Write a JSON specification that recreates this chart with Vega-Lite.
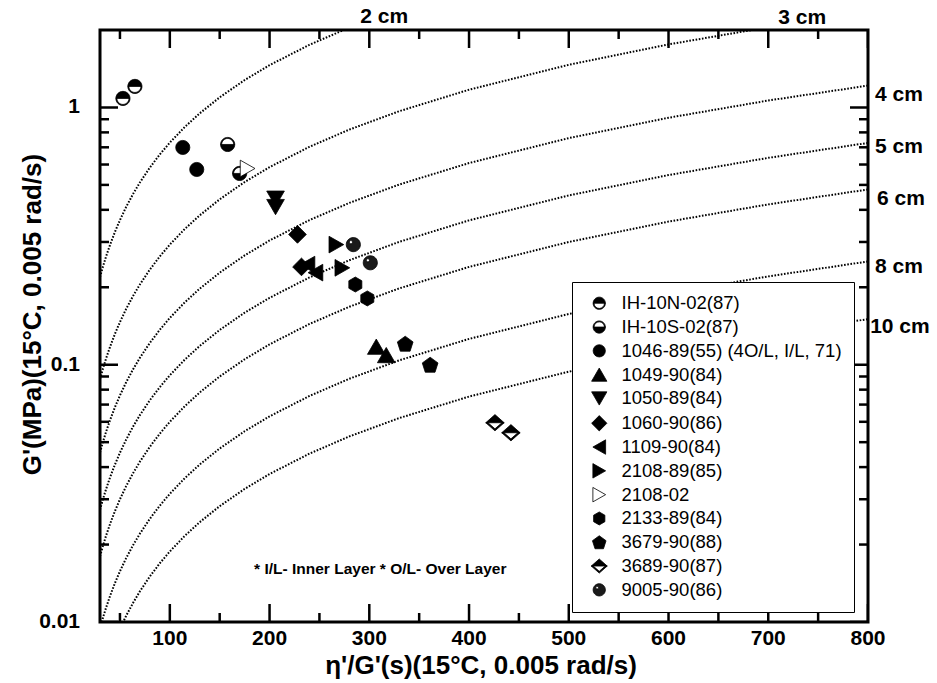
{
  "$schema": "https://vega.github.io/schema/vega-lite/v6.json",
  "width": 768,
  "height": 592,
  "autosize": {"type": "none"},
  "padding": {"left": 100, "top": 30, "right": 69, "bottom": 61},
  "config": {
    "view": {"stroke": "black", "strokeWidth": 3},
    "font": "Liberation Sans"
  },
  "datasets": {
    "curves": [
      {"c": "2", "x": 30, "y": 0.219}, {"c": "2", "x": 33, "y": 0.2409}, {"c": "2", "x": 36, "y": 0.2628}, {"c": "2", "x": 40, "y": 0.292}, {"c": "2", "x": 45, "y": 0.3285}, {"c": "2", "x": 50, "y": 0.365}, {"c": "2", "x": 56, "y": 0.4088}, {"c": "2", "x": 63, "y": 0.4599}, {"c": "2", "x": 70, "y": 0.511}, {"c": "2", "x": 80, "y": 0.584}, {"c": "2", "x": 90, "y": 0.657}, {"c": "2", "x": 100, "y": 0.73}, {"c": "2", "x": 115, "y": 0.8395}, {"c": "2", "x": 130, "y": 0.949}, {"c": "2", "x": 150, "y": 1.095}, {"c": "2", "x": 175, "y": 1.2775}, {"c": "2", "x": 200, "y": 1.46}, {"c": "2", "x": 240, "y": 1.752}, {"c": "2", "x": 280, "y": 2.044},
      {"c": "3", "x": 30, "y": 0.0879}, {"c": "3", "x": 33, "y": 0.0967}, {"c": "3", "x": 36, "y": 0.1055}, {"c": "3", "x": 40, "y": 0.1172}, {"c": "3", "x": 45, "y": 0.1319}, {"c": "3", "x": 50, "y": 0.1465}, {"c": "3", "x": 56, "y": 0.1641}, {"c": "3", "x": 63, "y": 0.1846}, {"c": "3", "x": 70, "y": 0.2051}, {"c": "3", "x": 80, "y": 0.2344}, {"c": "3", "x": 90, "y": 0.2637}, {"c": "3", "x": 100, "y": 0.293}, {"c": "3", "x": 115, "y": 0.337}, {"c": "3", "x": 130, "y": 0.3809}, {"c": "3", "x": 150, "y": 0.4395}, {"c": "3", "x": 175, "y": 0.5128}, {"c": "3", "x": 200, "y": 0.586}, {"c": "3", "x": 240, "y": 0.7032}, {"c": "3", "x": 280, "y": 0.8204}, {"c": "3", "x": 330, "y": 0.9669}, {"c": "3", "x": 400, "y": 1.172}, {"c": "3", "x": 500, "y": 1.465}, {"c": "3", "x": 600, "y": 1.758}, {"c": "3", "x": 700, "y": 2.051},
      {"c": "4", "x": 30, "y": 0.0456}, {"c": "4", "x": 33, "y": 0.05016}, {"c": "4", "x": 36, "y": 0.05472}, {"c": "4", "x": 40, "y": 0.0608}, {"c": "4", "x": 45, "y": 0.0684}, {"c": "4", "x": 50, "y": 0.076}, {"c": "4", "x": 56, "y": 0.08512}, {"c": "4", "x": 63, "y": 0.09576}, {"c": "4", "x": 70, "y": 0.1064}, {"c": "4", "x": 80, "y": 0.1216}, {"c": "4", "x": 90, "y": 0.1368}, {"c": "4", "x": 100, "y": 0.152}, {"c": "4", "x": 115, "y": 0.1748}, {"c": "4", "x": 130, "y": 0.1976}, {"c": "4", "x": 150, "y": 0.228}, {"c": "4", "x": 175, "y": 0.266}, {"c": "4", "x": 200, "y": 0.304}, {"c": "4", "x": 240, "y": 0.3648}, {"c": "4", "x": 280, "y": 0.4256}, {"c": "4", "x": 330, "y": 0.5016}, {"c": "4", "x": 400, "y": 0.608}, {"c": "4", "x": 500, "y": 0.76}, {"c": "4", "x": 600, "y": 0.912}, {"c": "4", "x": 700, "y": 1.064}, {"c": "4", "x": 800, "y": 1.216},
      {"c": "5", "x": 30, "y": 0.0273}, {"c": "5", "x": 33, "y": 0.03003}, {"c": "5", "x": 36, "y": 0.03276}, {"c": "5", "x": 40, "y": 0.0364}, {"c": "5", "x": 45, "y": 0.04095}, {"c": "5", "x": 50, "y": 0.0455}, {"c": "5", "x": 56, "y": 0.05096}, {"c": "5", "x": 63, "y": 0.05733}, {"c": "5", "x": 70, "y": 0.0637}, {"c": "5", "x": 80, "y": 0.0728}, {"c": "5", "x": 90, "y": 0.0819}, {"c": "5", "x": 100, "y": 0.091}, {"c": "5", "x": 115, "y": 0.1047}, {"c": "5", "x": 130, "y": 0.1183}, {"c": "5", "x": 150, "y": 0.1365}, {"c": "5", "x": 175, "y": 0.1593}, {"c": "5", "x": 200, "y": 0.182}, {"c": "5", "x": 240, "y": 0.2184}, {"c": "5", "x": 280, "y": 0.2548}, {"c": "5", "x": 330, "y": 0.3003}, {"c": "5", "x": 400, "y": 0.364}, {"c": "5", "x": 500, "y": 0.455}, {"c": "5", "x": 600, "y": 0.546}, {"c": "5", "x": 700, "y": 0.637}, {"c": "5", "x": 800, "y": 0.728},
      {"c": "6", "x": 30, "y": 0.018}, {"c": "6", "x": 33, "y": 0.0198}, {"c": "6", "x": 36, "y": 0.0216}, {"c": "6", "x": 40, "y": 0.024}, {"c": "6", "x": 45, "y": 0.027}, {"c": "6", "x": 50, "y": 0.03}, {"c": "6", "x": 56, "y": 0.0336}, {"c": "6", "x": 63, "y": 0.0378}, {"c": "6", "x": 70, "y": 0.042}, {"c": "6", "x": 80, "y": 0.048}, {"c": "6", "x": 90, "y": 0.054}, {"c": "6", "x": 100, "y": 0.06}, {"c": "6", "x": 115, "y": 0.069}, {"c": "6", "x": 130, "y": 0.078}, {"c": "6", "x": 150, "y": 0.09}, {"c": "6", "x": 175, "y": 0.105}, {"c": "6", "x": 200, "y": 0.12}, {"c": "6", "x": 240, "y": 0.144}, {"c": "6", "x": 280, "y": 0.168}, {"c": "6", "x": 330, "y": 0.198}, {"c": "6", "x": 400, "y": 0.24}, {"c": "6", "x": 500, "y": 0.3}, {"c": "6", "x": 600, "y": 0.36}, {"c": "6", "x": 700, "y": 0.42}, {"c": "6", "x": 800, "y": 0.48},
      {"c": "8", "x": 30, "y": 0.00945}, {"c": "8", "x": 33, "y": 0.0104}, {"c": "8", "x": 36, "y": 0.01134}, {"c": "8", "x": 40, "y": 0.0126}, {"c": "8", "x": 45, "y": 0.01418}, {"c": "8", "x": 50, "y": 0.01575}, {"c": "8", "x": 56, "y": 0.01764}, {"c": "8", "x": 63, "y": 0.01985}, {"c": "8", "x": 70, "y": 0.02205}, {"c": "8", "x": 80, "y": 0.0252}, {"c": "8", "x": 90, "y": 0.02835}, {"c": "8", "x": 100, "y": 0.0315}, {"c": "8", "x": 115, "y": 0.03623}, {"c": "8", "x": 130, "y": 0.04095}, {"c": "8", "x": 150, "y": 0.04725}, {"c": "8", "x": 175, "y": 0.05513}, {"c": "8", "x": 200, "y": 0.063}, {"c": "8", "x": 240, "y": 0.0756}, {"c": "8", "x": 280, "y": 0.0882}, {"c": "8", "x": 330, "y": 0.104}, {"c": "8", "x": 400, "y": 0.126}, {"c": "8", "x": 500, "y": 0.1575}, {"c": "8", "x": 600, "y": 0.189}, {"c": "8", "x": 700, "y": 0.2205}, {"c": "8", "x": 800, "y": 0.252},
      {"c": "10", "x": 50, "y": 0.0094}, {"c": "10", "x": 56, "y": 0.01053}, {"c": "10", "x": 63, "y": 0.01184}, {"c": "10", "x": 70, "y": 0.01316}, {"c": "10", "x": 80, "y": 0.01504}, {"c": "10", "x": 90, "y": 0.01692}, {"c": "10", "x": 100, "y": 0.0188}, {"c": "10", "x": 115, "y": 0.02162}, {"c": "10", "x": 130, "y": 0.02444}, {"c": "10", "x": 150, "y": 0.0282}, {"c": "10", "x": 175, "y": 0.0329}, {"c": "10", "x": 200, "y": 0.0376}, {"c": "10", "x": 240, "y": 0.04512}, {"c": "10", "x": 280, "y": 0.05264}, {"c": "10", "x": 330, "y": 0.06204}, {"c": "10", "x": 400, "y": 0.0752}, {"c": "10", "x": 500, "y": 0.094}, {"c": "10", "x": 600, "y": 0.1128}, {"c": "10", "x": 700, "y": 0.1316}, {"c": "10", "x": 800, "y": 0.1504}
    ],
    "pts": [
      {"series": "IH-10N-02(87)", "x": 53, "y": 1.084},
      {"series": "IH-10N-02(87)", "x": 65, "y": 1.207},
      {"series": "IH-10S-02(87)", "x": 158, "y": 0.718},
      {"series": "IH-10S-02(87)", "x": 170, "y": 0.554},
      {"series": "1046-89(55) (4O/L, I/L, 71)", "x": 113, "y": 0.699},
      {"series": "1046-89(55) (4O/L, I/L, 71)", "x": 127, "y": 0.574},
      {"series": "1049-90(84)", "x": 307, "y": 0.1175},
      {"series": "1049-90(84)", "x": 317, "y": 0.109},
      {"series": "1050-89(84)", "x": 206, "y": 0.442},
      {"series": "1050-89(84)", "x": 206, "y": 0.41},
      {"series": "1060-90(86)", "x": 228, "y": 0.321},
      {"series": "1060-90(86)", "x": 232, "y": 0.24},
      {"series": "1109-90(84)", "x": 238, "y": 0.245},
      {"series": "1109-90(84)", "x": 246, "y": 0.228},
      {"series": "2108-89(85)", "x": 267, "y": 0.293},
      {"series": "2108-89(85)", "x": 273, "y": 0.238},
      {"series": "2133-89(84)", "x": 286, "y": 0.205},
      {"series": "2133-89(84)", "x": 298, "y": 0.181},
      {"series": "3679-90(88)", "x": 336, "y": 0.1207},
      {"series": "3679-90(88)", "x": 361, "y": 0.1},
      {"series": "3689-90(87)", "x": 426, "y": 0.0595},
      {"series": "3689-90(87)", "x": 442, "y": 0.0544},
      {"series": "9005-90(86)", "x": 284, "y": 0.293},
      {"series": "9005-90(86)", "x": 301, "y": 0.249},
      {"series": "2108-02", "x": 178, "y": 0.579}
    ],
    "cmlabels": [
      {"label": "2 cm", "x": 315, "y": 2.25},
      {"label": "3 cm", "x": 734, "y": 2.23},
      {"label": "4 cm", "x": 831, "y": 1.12},
      {"label": "5 cm", "x": 831, "y": 0.705},
      {"label": "6 cm", "x": 833, "y": 0.442},
      {"label": "8 cm", "x": 831, "y": 0.24},
      {"label": "10 cm", "x": 832, "y": 0.1406}
    ],
    "note": [
      {"label": "* I/L- Inner Layer * O/L- Over Layer", "x": 311, "y": 0.0161}
    ],
    "xlabels": [
      {"label": "100", "x": 100, "y": 0.00859}, {"label": "200", "x": 200, "y": 0.00859}, {"label": "300", "x": 300, "y": 0.00859}, {"label": "400", "x": 400, "y": 0.00859},
      {"label": "500", "x": 500, "y": 0.00859}, {"label": "600", "x": 600, "y": 0.00859}, {"label": "700", "x": 700, "y": 0.00859}, {"label": "800", "x": 800, "y": 0.00859}
    ],
    "ylabels": [
      {"label": "0.01", "x": 10, "y": 0.01}, {"label": "0.1", "x": 10, "y": 0.1}, {"label": "1", "x": 10, "y": 1}
    ],
    "xtitle": [
      {"label": "η'/G'(s)(15°C, 0.005 rad/s)", "x": 412, "y": 0.00628}
    ],
    "ytitle": [
      {"label": "G'(MPa)(15°C, 0.005 rad/s)", "x": -29, "y": 0.1566}
    ],
    "xticks": [
      {"x": 100, "y": 0.01, "k": "major"}, {"x": 200, "y": 0.01, "k": "major"}, {"x": 300, "y": 0.01, "k": "major"}, {"x": 400, "y": 0.01, "k": "major"}, {"x": 500, "y": 0.01, "k": "major"}, {"x": 600, "y": 0.01, "k": "major"}, {"x": 700, "y": 0.01, "k": "major"}, {"x": 800, "y": 0.01, "k": "major"},
      {"x": 100, "y": 2, "k": "major"}, {"x": 200, "y": 2, "k": "major"}, {"x": 300, "y": 2, "k": "major"}, {"x": 400, "y": 2, "k": "major"}, {"x": 500, "y": 2, "k": "major"}, {"x": 600, "y": 2, "k": "major"}, {"x": 700, "y": 2, "k": "major"}, {"x": 800, "y": 2, "k": "major"},
      {"x": 50, "y": 0.01, "k": "minor"}, {"x": 150, "y": 0.01, "k": "minor"}, {"x": 250, "y": 0.01, "k": "minor"}, {"x": 350, "y": 0.01, "k": "minor"}, {"x": 450, "y": 0.01, "k": "minor"}, {"x": 550, "y": 0.01, "k": "minor"}, {"x": 650, "y": 0.01, "k": "minor"}, {"x": 750, "y": 0.01, "k": "minor"},
      {"x": 50, "y": 2, "k": "minor"}, {"x": 150, "y": 2, "k": "minor"}, {"x": 250, "y": 2, "k": "minor"}, {"x": 350, "y": 2, "k": "minor"}, {"x": 450, "y": 2, "k": "minor"}, {"x": 550, "y": 2, "k": "minor"}, {"x": 650, "y": 2, "k": "minor"}, {"x": 750, "y": 2, "k": "minor"}
    ],
    "yticks": [
      {"x": 30, "y": 0.01, "k": "major"}, {"x": 30, "y": 0.1, "k": "major"}, {"x": 30, "y": 1, "k": "major"},
      {"x": 800, "y": 0.01, "k": "major"}, {"x": 800, "y": 0.1, "k": "major"}, {"x": 800, "y": 1, "k": "major"},
      {"x": 30, "y": 0.02, "k": "minor"}, {"x": 30, "y": 0.03, "k": "minor"}, {"x": 30, "y": 0.04, "k": "minor"}, {"x": 30, "y": 0.05, "k": "minor"}, {"x": 30, "y": 0.06, "k": "minor"}, {"x": 30, "y": 0.07, "k": "minor"}, {"x": 30, "y": 0.08, "k": "minor"}, {"x": 30, "y": 0.09, "k": "minor"},
      {"x": 30, "y": 0.2, "k": "minor"}, {"x": 30, "y": 0.3, "k": "minor"}, {"x": 30, "y": 0.4, "k": "minor"}, {"x": 30, "y": 0.5, "k": "minor"}, {"x": 30, "y": 0.6, "k": "minor"}, {"x": 30, "y": 0.7, "k": "minor"}, {"x": 30, "y": 0.8, "k": "minor"}, {"x": 30, "y": 0.9, "k": "minor"},
      {"x": 800, "y": 0.02, "k": "minor"}, {"x": 800, "y": 0.03, "k": "minor"}, {"x": 800, "y": 0.04, "k": "minor"}, {"x": 800, "y": 0.05, "k": "minor"}, {"x": 800, "y": 0.06, "k": "minor"}, {"x": 800, "y": 0.07, "k": "minor"}, {"x": 800, "y": 0.08, "k": "minor"}, {"x": 800, "y": 0.09, "k": "minor"},
      {"x": 800, "y": 0.2, "k": "minor"}, {"x": 800, "y": 0.3, "k": "minor"}, {"x": 800, "y": 0.4, "k": "minor"}, {"x": 800, "y": 0.5, "k": "minor"}, {"x": 800, "y": 0.6, "k": "minor"}, {"x": 800, "y": 0.7, "k": "minor"}, {"x": 800, "y": 0.8, "k": "minor"}, {"x": 800, "y": 0.9, "k": "minor"}
    ]
  },
  "layer": [
    {
      "data": {"name": "curves"},
      "mark": {"type": "line", "clip": true, "color": "black", "strokeWidth": 2, "strokeDash": [1.6, 1.6]},
      "encoding": {
        "x": {"field": "x", "type": "quantitative", "scale": {"domain": [30, 800], "nice": false, "zero": false}, "axis": null},
        "y": {"field": "y", "type": "quantitative", "scale": {"type": "log", "domain": [0.01, 2], "nice": false}, "axis": null},
        "detail": {"field": "c", "type": "nominal"}
      }
    },
    {
      "data": {"name": "pts"},
      "mark": {"type": "point", "filled": true, "strokeWidth": 0.8, "opacity": 1, "size": 200},
      "encoding": {
        "x": {"field": "x", "type": "quantitative", "scale": {"domain": [30, 800], "nice": false, "zero": false}, "axis": null},
        "y": {"field": "y", "type": "quantitative", "scale": {"type": "log", "domain": [0.01, 2], "nice": false}, "axis": null},
        "shape": {
          "field": "series", "type": "nominal",
          "scale": {
            "domain": ["IH-10N-02(87)", "IH-10S-02(87)", "1046-89(55) (4O/L, I/L, 71)", "1049-90(84)", "1050-89(84)", "1060-90(86)", "1109-90(84)", "2108-89(85)", "2108-02", "2133-89(84)", "3679-90(88)", "3689-90(87)", "9005-90(86)"],
            "range": [
              "M-1,0A1,1,0,0,1,1,0Z M1,0A1,1,0,0,1,-1,0L-0.85,0A0.85,0.85,0,0,0,0.85,0Z",
              "M-1,0A1,1,0,0,0,1,0Z M1,0A1,1,0,0,0,-1,0L-0.85,0A0.85,0.85,0,0,1,0.85,0Z",
              "circle",
              "M0,-1.08L1.25,1.08L-1.25,1.08Z",
              "M-1.25,-1.08L1.25,-1.08L0,1.08Z",
              "M-1.25,0L0,-1.25L1.25,0L0,1.25Z",
              "M-1.04,0L1.04,-1.18L1.04,1.18Z",
              "M1.04,0L-1.04,-1.18L-1.04,1.18Z",
              "M1.04,0L-1.04,-1.18L-1.04,1.18Z",
              "M0,-1.06L0.92,-0.53L0.92,0.53L0,1.06L-0.92,0.53L-0.92,-0.53Z",
              "M0,-1.06L1.11,-0.25L0.69,1.06L-0.69,1.06L-1.11,-0.25Z",
              "M-1.3,0L0,-1.15L1.3,0Z M1.3,0L0,1.15L-1.3,0L-0.98,0L0,0.86L0.98,0Z",
              "M1,0A1,1,0,1,1,-1,0A1,1,0,1,1,1,0Z M-0.12,-0.35A0.22,0.22,0,1,0,-0.56,-0.35A0.22,0.22,0,1,0,-0.12,-0.35Z"
            ]
          },
          "legend": {
            "orient": "none", "legendX": 472, "legendY": 252, "title": null,
            "padding": 12, "strokeColor": "black", "fillColor": "white", "cornerRadius": 0,
            "labelFont": "Liberation Sans", "labelFontSize": 18.5, "labelColor": "black", "labelLimit": 400,
            "symbolSize": 150, "symbolStrokeWidth": 0.8,
            "rowPadding": 4.8, "labelOffset": 13, "symbolOffset": 6
          }
        },
        "fill": {
          "field": "series", "type": "nominal",
          "scale": {
            "domain": ["IH-10N-02(87)", "IH-10S-02(87)", "1046-89(55) (4O/L, I/L, 71)", "1049-90(84)", "1050-89(84)", "1060-90(86)", "1109-90(84)", "2108-89(85)", "2108-02", "2133-89(84)", "3679-90(88)", "3689-90(87)", "9005-90(86)"],
            "range": ["black", "black", "black", "black", "black", "black", "black", "black", "white", "black", "black", "black", "#1a1a1a"]
          },
          "legend": {
            "orient": "none", "legendX": 472, "legendY": 252, "title": null,
            "padding": 12, "strokeColor": "black", "fillColor": "white", "cornerRadius": 0,
            "labelFont": "Liberation Sans", "labelFontSize": 18.5, "labelColor": "black", "labelLimit": 400,
            "symbolSize": 150, "symbolStrokeWidth": 0.8,
            "rowPadding": 4.8, "labelOffset": 13, "symbolOffset": 6
          }
        },
        "stroke": {
          "field": "series", "type": "nominal",
          "scale": {
            "domain": ["IH-10N-02(87)", "IH-10S-02(87)", "1046-89(55) (4O/L, I/L, 71)", "1049-90(84)", "1050-89(84)", "1060-90(86)", "1109-90(84)", "2108-89(85)", "2108-02", "2133-89(84)", "3679-90(88)", "3689-90(87)", "9005-90(86)"],
            "range": ["black", "black", "black", "black", "black", "black", "black", "black", "black", "black", "black", "black", "black"]
          },
          "legend": {
            "orient": "none", "legendX": 472, "legendY": 252, "title": null,
            "padding": 12, "strokeColor": "black", "fillColor": "white", "cornerRadius": 0,
            "labelFont": "Liberation Sans", "labelFontSize": 18.5, "labelColor": "black", "labelLimit": 400,
            "symbolSize": 150, "symbolStrokeWidth": 0.8,
            "rowPadding": 4.8, "labelOffset": 13, "symbolOffset": 6
          }
        }
      }
    },
    {
      "data": {"name": "cmlabels"},
      "mark": {"type": "text", "font": "Liberation Sans", "fontWeight": "bold", "fontSize": 21, "align": "center", "baseline": "middle", "color": "black"},
      "encoding": {
        "x": {"field": "x", "type": "quantitative", "scale": {"domain": [30, 800], "nice": false, "zero": false}, "axis": null},
        "y": {"field": "y", "type": "quantitative", "scale": {"type": "log", "domain": [0.01, 2], "nice": false}, "axis": null},
        "text": {"field": "label"}
      }
    },
    {
      "data": {"name": "note"},
      "mark": {"type": "text", "font": "Liberation Sans", "fontWeight": "bold", "fontSize": 15.5, "align": "center", "baseline": "middle", "color": "black"},
      "encoding": {
        "x": {"field": "x", "type": "quantitative", "scale": {"domain": [30, 800], "nice": false, "zero": false}, "axis": null},
        "y": {"field": "y", "type": "quantitative", "scale": {"type": "log", "domain": [0.01, 2], "nice": false}, "axis": null},
        "text": {"field": "label"}
      }
    },
    {
      "data": {"name": "xlabels"},
      "mark": {"type": "text", "font": "Liberation Sans", "fontWeight": "bold", "fontSize": 21, "align": "center", "baseline": "middle", "color": "black"},
      "encoding": {
        "x": {"field": "x", "type": "quantitative", "scale": {"domain": [30, 800], "nice": false, "zero": false}, "axis": null},
        "y": {"field": "y", "type": "quantitative", "scale": {"type": "log", "domain": [0.01, 2], "nice": false}, "axis": null},
        "text": {"field": "label"}
      }
    },
    {
      "data": {"name": "ylabels"},
      "mark": {"type": "text", "font": "Liberation Sans", "fontWeight": "bold", "fontSize": 21, "align": "right", "baseline": "middle", "color": "black"},
      "encoding": {
        "x": {"field": "x", "type": "quantitative", "scale": {"domain": [30, 800], "nice": false, "zero": false}, "axis": null},
        "y": {"field": "y", "type": "quantitative", "scale": {"type": "log", "domain": [0.01, 2], "nice": false}, "axis": null},
        "text": {"field": "label"}
      }
    },
    {
      "data": {"name": "xtitle"},
      "mark": {"type": "text", "font": "Liberation Sans", "fontWeight": "bold", "fontSize": 26, "align": "center", "baseline": "alphabetic", "color": "black"},
      "encoding": {
        "x": {"field": "x", "type": "quantitative", "scale": {"domain": [30, 800], "nice": false, "zero": false}, "axis": null},
        "y": {"field": "y", "type": "quantitative", "scale": {"type": "log", "domain": [0.01, 2], "nice": false}, "axis": null},
        "text": {"field": "label"}
      }
    },
    {
      "data": {"name": "ytitle"},
      "mark": {"type": "text", "font": "Liberation Sans", "fontWeight": "bold", "fontSize": 26, "align": "center", "baseline": "alphabetic", "angle": 270, "color": "black"},
      "encoding": {
        "x": {"field": "x", "type": "quantitative", "scale": {"domain": [30, 800], "nice": false, "zero": false}, "axis": null},
        "y": {"field": "y", "type": "quantitative", "scale": {"type": "log", "domain": [0.01, 2], "nice": false}, "axis": null},
        "text": {"field": "label"}
      }
    },
    {
      "data": {"name": "xticks"},
      "mark": {"type": "tick", "orient": "vertical", "thickness": 2.5, "clip": true, "color": "black", "opacity": 1},
      "encoding": {
        "x": {"field": "x", "type": "quantitative", "scale": {"domain": [30, 800], "nice": false, "zero": false}, "axis": null},
        "y": {"field": "y", "type": "quantitative", "scale": {"type": "log", "domain": [0.01, 2], "nice": false}, "axis": null},
        "size": {"field": "k", "type": "ordinal", "scale": {"domain": ["major", "minor"], "range": [36, 18]}, "legend": null}
      }
    },
    {
      "data": {"name": "yticks"},
      "mark": {"type": "tick", "orient": "horizontal", "thickness": 2.5, "clip": true, "color": "black", "opacity": 1},
      "encoding": {
        "x": {"field": "x", "type": "quantitative", "scale": {"domain": [30, 800], "nice": false, "zero": false}, "axis": null},
        "y": {"field": "y", "type": "quantitative", "scale": {"type": "log", "domain": [0.01, 2], "nice": false}, "axis": null},
        "size": {"field": "k", "type": "ordinal", "scale": {"domain": ["major", "minor"], "range": [36, 18]}, "legend": null}
      }
    }
  ]
}
